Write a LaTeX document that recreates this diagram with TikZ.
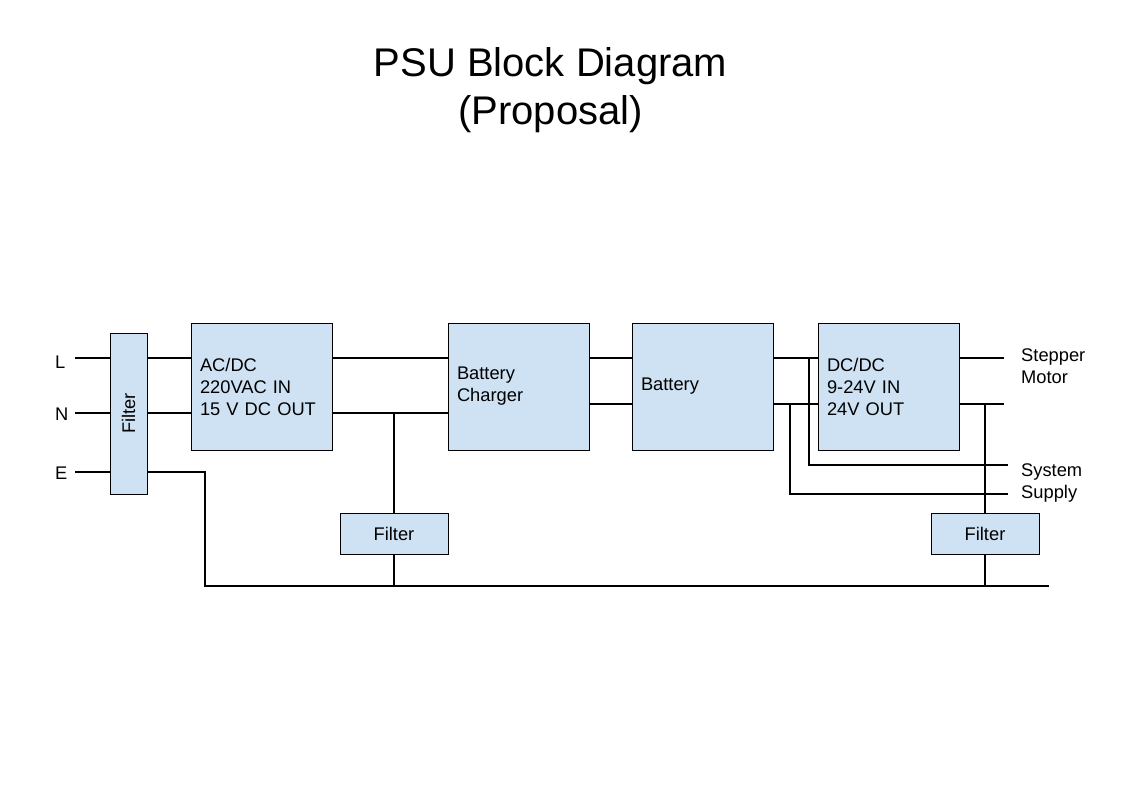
\documentclass[tikz,border=0pt]{standalone}
\usepackage{fontspec}
\setmainfont{Liberation Sans}
\definecolor{boxblue}{HTML}{CFE2F3}
\begin{document}
\begin{tikzpicture}[x=1pt,y=-1pt,
  blk/.style={draw=black, fill=boxblue, line width=1pt, minimum width=141pt, minimum height=127pt,
    text width=123pt, inner xsep=9pt, align=left, font=\fontsize{18.3}{22}\selectfont},
  filt/.style={draw=black, fill=boxblue, line width=1pt, minimum width=108pt, minimum height=41pt,
    inner sep=0pt, font=\fontsize{18.3}{22}\selectfont},
  lbl/.style={inner sep=0pt, anchor=west, align=left, font=\fontsize{18.3}{22}\selectfont},
  wire/.style={line width=1.1pt, black}]
\useasboundingbox (0,0) rectangle (1121,793);
\node[align=center, font=\fontsize{40}{48}\selectfont] (title) at (550.5,90) {PSU Block Diagram\\(Proposal)};

% boxes
\node[filt, minimum width=37pt, minimum height=161pt] (fin) at (128.5,413.5) {\rotatebox{90}{Filter}};
\node[blk] (acdc) at (261.5,386.5) {AC/DC\\220VAC IN\\15 V DC OUT};
\node[blk] (chg) at (518.5,386.5) {Battery\\Charger};
\node[blk] (bat) at (702.5,386.5) {Battery};
\node[blk] (dcdc) at (888.5,386.5) {DC/DC\\9-24V IN\\24V OUT};
\node[filt] (f1) at (394,533.5) {Filter};
\node[filt] (f2) at (985,533.5) {Filter};

% labels
\node[lbl] (tL) at (55,362) {L};
\node[lbl] (tN) at (55,414) {N};
\node[lbl] (tE) at (55,473) {E};
\node[lbl] (tSM) at (1021,366) {Stepper\\Motor};
\node[lbl] (tSS) at (1021,483) {System\\Supply};

% coordinates
\coordinate (lL) at (75,358);
\coordinate (lN) at (75,413);
\coordinate (lE) at (75,472);
\coordinate (l2) at (589,404);
\coordinate (gndL) at (205,586);
\coordinate (gndR) at (1049,586);
\coordinate (tapA) at (809,358);
\coordinate (tapB) at (790,404);
\coordinate (sysA) at (1008,465);
\coordinate (sysB) at (1008,494);
\coordinate (outA) at (1004,358);
\coordinate (outB) at (1004,404);
\coordinate (j1) at (394,413);
\coordinate (j2) at (985,404);

% wires
\draw[wire] (lL) -- (lL -| fin.west);
\draw[wire] (lN) -- (lN -| fin.west);
\draw[wire] (lE) -- (lE -| fin.west);
\draw[wire] (fin.east |- lL) -- (acdc.west |- lL);
\draw[wire] (fin.east |- lN) -- (acdc.west |- lN);
\draw[wire] (fin.east |- lE) -- (gndL |- lE) -- (gndL) -- (gndR);
\draw[wire] (acdc.east |- lL) -- (chg.west |- lL);
\draw[wire] (acdc.east |- lN) -- (chg.west |- lN);
\draw[wire] (j1) -- (f1.north);
\draw[wire] (f1.south) -- (f1.south |- gndL);
\draw[wire] (chg.east |- lL) -- (bat.west |- lL);
\draw[wire] (chg.east |- l2) -- (bat.west |- l2);
\draw[wire] (bat.east |- lL) -- (dcdc.west |- lL);
\draw[wire] (bat.east |- l2) -- (dcdc.west |- l2);
\draw[wire] (tapA) -- (tapA |- sysA) -- (sysA);
\draw[wire] (tapB) -- (tapB |- sysB) -- (sysB);
\draw[wire] (dcdc.east |- outA) -- (outA);
\draw[wire] (dcdc.east |- outB) -- (outB);
\draw[wire] (j2) -- (f2.north);
\draw[wire] (f2.south) -- (f2.south |- gndR);
\end{tikzpicture}
\end{document}
